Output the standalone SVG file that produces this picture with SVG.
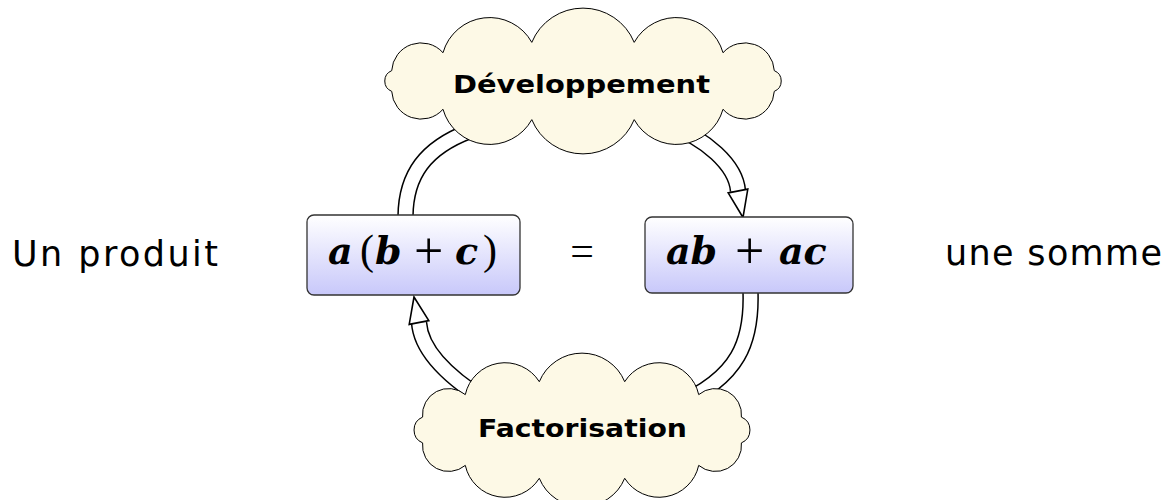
<svg xmlns="http://www.w3.org/2000/svg" width="1175" height="500" viewBox="0 0 1175 500">
<defs>
<linearGradient id="boxgrad" x1="0" y1="0" x2="0" y2="1">
<stop offset="0" stop-color="#ffffff"/>
<stop offset="1" stop-color="#c8c8fa"/>
</linearGradient>
<style>
.box{fill:url(#boxgrad);stroke:#333;stroke-width:1.3}
.cloud{fill:#fdf9e6;stroke:#000;stroke-width:1}
.outer{fill:none;stroke:#000;stroke-width:16.5;stroke-linejoin:round}
.inner{fill:none;stroke:#fff;stroke-width:13.5;stroke-linejoin:round}
.head{fill:#fff;stroke:#000;stroke-width:1.6;stroke-linejoin:miter}
.side{font-family:"DejaVu Sans",sans-serif;font-size:35px;fill:#000}
.ctext{font-family:"DejaVu Sans",sans-serif;font-size:25px;font-weight:bold;fill:#000}
.mv{font-family:"DejaVu Serif",serif;font-size:38px;font-weight:bold;font-style:italic;fill:#000}
.mo{font-family:"Liberation Serif",serif;font-size:42px;fill:#000}
.mp{font-family:"Liberation Serif",serif;font-size:52px;fill:#000}
</style>
</defs>
<g id="connectors">
<path class="outer" d="M 405.5 216 C 406 175 425 148 470 131 L 500 95 L 650 95 L 670 126 C 705 138 736 165 738 191"/>
<path class="inner" d="M 405.5 216 C 406 175 425 148 470 131 L 500 95 L 650 95 L 670 126 C 705 138 736 165 738 191"/>
<polygon class="head" points="743,217.5 728.2,192.9 747.8,189.1"/>
<path class="outer" d="M 750.5 292 C 752 340 740 378 675 405 L 660 425 L 495 425 L 485 400 C 450 378 421 352 419 322.5"/>
<path class="inner" d="M 750.5 292 C 752 340 740 378 675 405 L 660 425 L 495 425 L 485 400 C 450 378 421 352 419 322.5"/>
<polygon class="head" points="414,297 409.2,324.4 428.8,320.6"/>
</g>
<g id="label-produit">
<text class="side" x="12" y="266" textLength="206" lengthAdjust="spacing">Un produit</text>
</g>
<g id="label-somme">
<text class="side" x="945" y="265" textLength="217" lengthAdjust="spacing">une somme</text>
</g>
<g id="node-produit">
<rect class="box" x="307" y="215" width="213" height="80" rx="7" ry="7"/>
<text y="264"><tspan class="mv" x="328">a</tspan><tspan class="mo" x="360">(</tspan><tspan class="mv" x="375">b</tspan><tspan class="mp" x="414" y="268">+</tspan><tspan class="mv" x="455" y="264">c</tspan><tspan class="mo" x="483">)</tspan></text>
</g>
<g id="equals">
<text class="mo" x="582" y="265" text-anchor="middle">=</text>
</g>
<g id="node-somme">
<rect class="box" x="645" y="217" width="208" height="76" rx="7" ry="7"/>
<text y="264"><tspan class="mv" x="666">ab</tspan><tspan class="mp" x="735" y="268">+</tspan><tspan class="mv" x="779" y="264">ac</tspan></text>
</g>
<g id="node-developpement">
<path class="cloud" d="M 774.3 70.65 A 29.4 29.4 0 0 0 723 52.72 A 48.4 48.4 0 0 0 634.2 42.36 A 55.4 55.4 0 0 0 531.8 42.36 A 48.4 48.4 0 0 0 443 52.72 A 29.4 29.4 0 0 0 391.7 70.65 A 11.2 11.2 0 0 0 391.7 91.35 A 29.4 29.4 0 0 0 443 109.28 A 48.4 48.4 0 0 0 531.8 119.64 A 55.4 55.4 0 0 0 634.2 119.64 A 48.4 48.4 0 0 0 723 109.28 A 29.4 29.4 0 0 0 774.3 91.35 A 11.2 11.2 0 0 0 774.3 70.65 Z"/>
<text class="ctext" x="453" y="93" textLength="257" lengthAdjust="spacingAndGlyphs">Développement</text>
</g>
<g id="node-factorisation">
<path class="cloud" d="M 741.4 417.1 A 26.1 26.1 0 0 0 698.7 394.6 A 40.6 40.6 0 0 0 624.7 381.7 A 46.2 46.2 0 0 0 539.3 381.7 A 40.6 40.6 0 0 0 465.3 394.6 A 26.1 26.1 0 0 0 422.6 417.1 A 14 14 0 0 0 422.6 442.9 A 26.1 26.1 0 0 0 465.3 465.4 A 40.6 40.6 0 0 0 539.3 478.3 A 46.2 46.2 0 0 0 624.7 478.3 A 40.6 40.6 0 0 0 698.7 465.4 A 26.1 26.1 0 0 0 741.4 442.9 A 14 14 0 0 0 741.4 417.1 Z"/>
<text class="ctext" x="478" y="437" textLength="209" lengthAdjust="spacingAndGlyphs">Factorisation</text>
</g>
</svg>
